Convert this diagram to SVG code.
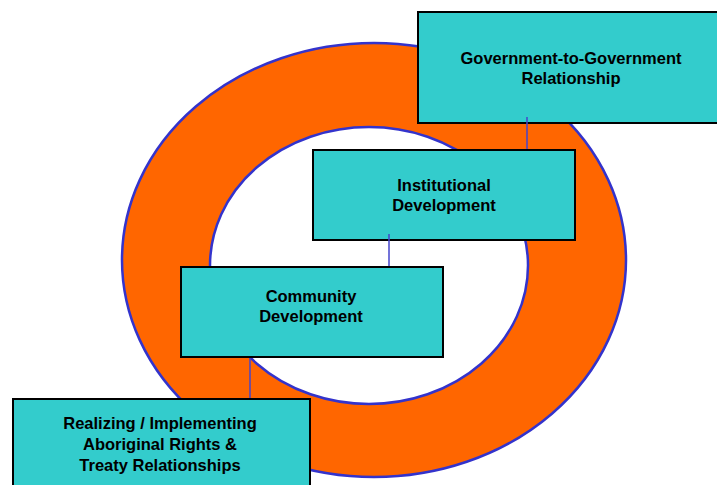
<svg xmlns="http://www.w3.org/2000/svg" width="717" height="485" viewBox="0 0 717 485">
<style>
.ring{stroke:#3333CC;stroke-width:2.5}
.box{fill:#33CCCC;stroke:#000;stroke-width:2}
.lbl{font-family:"Liberation Sans",Arial,sans-serif;font-weight:bold;font-size:16.5px;fill:#000;text-anchor:middle}
.conn{stroke:#4444CC;stroke-width:1.5;fill:none}
</style>
<rect width="717" height="485" fill="#fff"/>
<g id="ring">
<ellipse class="ring" cx="374" cy="260" rx="252" ry="217" fill="#FF6600"/>
<ellipse class="ring" cx="369" cy="265.5" rx="159" ry="138.5" fill="#fff"/>
</g>
<g id="n1">
<rect class="box" x="418" y="12" width="310" height="111"/>
<text class="lbl" x="571" y="64">Government-to-Government</text>
<text class="lbl" x="571" y="84">Relationship</text>
</g>
<g id="n2">
<rect class="box" x="313" y="150" width="262" height="90"/>
<text class="lbl" x="444" y="191">Institutional</text>
<text class="lbl" x="444" y="211">Development</text>
</g>
<g id="n3">
<rect class="box" x="181" y="267" width="262" height="90"/>
<text class="lbl" x="311" y="302">Community</text>
<text class="lbl" x="311" y="322">Development</text>
</g>
<g id="n4">
<rect class="box" x="13" y="399" width="297" height="100"/>
<text class="lbl" x="160" y="429">Realizing / Implementing</text>
<text class="lbl" x="160" y="450">Aboriginal Rights &amp;</text>
<text class="lbl" x="160" y="471">Treaty Relationships</text>
</g>
<g id="connectors">
<line class="conn" x1="527" y1="117" x2="527" y2="149"/>
<line class="conn" x1="389" y1="234" x2="389" y2="266"/>
<line class="conn" x1="250" y1="358" x2="250" y2="398"/>
</g>
</svg>
